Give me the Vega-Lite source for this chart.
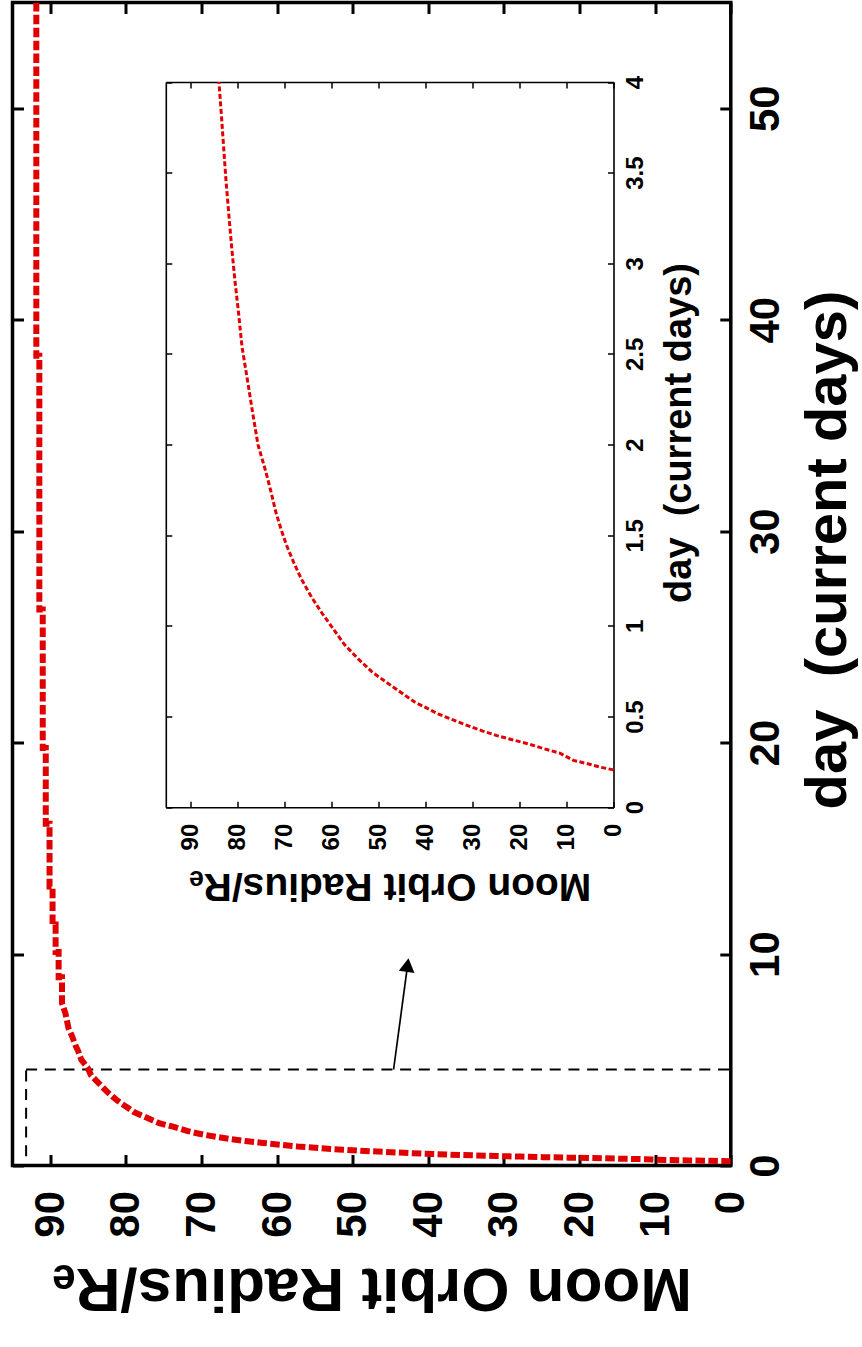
{
  "$schema": "https://vega.github.io/schema/vega-lite/v6.json",
  "padding": {"left": 10.5, "top": 0.5, "right": 0, "bottom": 0},
  "autosize": {"type": "pad"},
  "width": 718.3,
  "height": 1163,
  "view": {"stroke": "black", "strokeWidth": 3.5},
  "config": {
    "font": "Liberation Sans",
    "axis": {"grid": false, "domain": false, "labelFlush": false, "labelOverlap": false, "tickColor": "black", "labelColor": "black", "titleColor": "black", "domainColor": "black", "labelLimit": 0, "titleLimit": 0}
  },
  "datasets": {
    "orbit": [
      {"day": 0.206, "r": 0}, {"day": 0.22, "r": 2.7}, {"day": 0.24, "r": 5.5}, {"day": 0.258, "r": 8.5},
      {"day": 0.276, "r": 9.8}, {"day": 0.298, "r": 11.4}, {"day": 0.322, "r": 14.7}, {"day": 0.35, "r": 18.2},
      {"day": 0.372, "r": 21.5}, {"day": 0.395, "r": 24.8}, {"day": 0.42, "r": 27.8}, {"day": 0.45, "r": 31.0},
      {"day": 0.48, "r": 34.0}, {"day": 0.515, "r": 37.3}, {"day": 0.579, "r": 42.2}, {"day": 0.66, "r": 46.7},
      {"day": 0.745, "r": 51.3}, {"day": 0.818, "r": 54.3}, {"day": 0.9, "r": 57.3}, {"day": 0.984, "r": 59.6},
      {"day": 1.067, "r": 61.9}, {"day": 1.158, "r": 64.2}, {"day": 1.26, "r": 66.4}, {"day": 1.35, "r": 68.0},
      {"day": 1.443, "r": 69.5}, {"day": 1.526, "r": 70.6}, {"day": 1.627, "r": 71.8}, {"day": 1.747, "r": 72.9},
      {"day": 1.857, "r": 74.0}, {"day": 2.0, "r": 75.6}, {"day": 2.17, "r": 76.7}, {"day": 2.35, "r": 77.8},
      {"day": 2.54, "r": 79.0}, {"day": 2.72, "r": 79.7}, {"day": 2.905, "r": 80.5}, {"day": 3.09, "r": 81.2},
      {"day": 3.27, "r": 81.8}, {"day": 3.457, "r": 82.4}, {"day": 3.64, "r": 82.9}, {"day": 3.825, "r": 83.4},
      {"day": 4.0, "r": 83.9}, {"day": 4.26, "r": 84.6}, {"day": 4.65, "r": 85.1}, {"day": 5.0, "r": 85.9},
      {"day": 5.4, "r": 86.3}, {"day": 5.7, "r": 86.7}, {"day": 6.1, "r": 87.1}, {"day": 6.5, "r": 87.6},
      {"day": 7.2, "r": 88.0}, {"day": 7.67, "r": 88.45}, {"day": 8.9, "r": 88.45}, {"day": 8.9, "r": 88.9},
      {"day": 10.1, "r": 88.9}, {"day": 10.1, "r": 89.3}, {"day": 11.4, "r": 89.3}, {"day": 11.4, "r": 89.7},
      {"day": 13.2, "r": 89.7}, {"day": 13.2, "r": 90.1}, {"day": 16.16, "r": 90.1}, {"day": 16.16, "r": 90.6},
      {"day": 19.75, "r": 90.6}, {"day": 19.75, "r": 91.0}, {"day": 26.3, "r": 91.0}, {"day": 26.3, "r": 91.45},
      {"day": 38.3, "r": 91.45}, {"day": 38.3, "r": 91.85}, {"day": 55, "r": 91.85}
    ],
    "box": [{"r1": 0, "r2": 93.2, "d1": 0, "d2": 4.54}],
    "arrow": [{"r": 44.6, "d": 4.54, "r2": 42.85, "d2": 9.2}],
    "head": [{"r": 42.75, "d": 9.475}]
  },
  "layer": [
    {
      "layer": [
        {
          "data": {"name": "box"},
          "mark": {"type": "rect", "fillOpacity": 0, "stroke": "black", "strokeWidth": 2, "strokeDash": [11, 7.7]},
          "encoding": {
            "x": {"field": "r1", "type": "quantitative", "scale": {"domain": [0, 95], "reverse": true, "nice": false, "zero": false},
              "axis": {"orient": "bottom", "values": [0, 10, 20, 30, 40, 50, 60, 70, 80, 90], "title": "Moon Orbit Radius/Rₑ",
                "tickSize": -11, "tickWidth": 3, "labelAngle": -90, "labelAlign": "right", "labelBaseline": "middle", "labelPadding": 36,
                "labelFontSize": 42, "labelFontWeight": "bold", "titleFontSize": 62, "titleFontWeight": "bold",
                "titleAngle": 180, "titleBaseline": "bottom", "titlePadding": 18}},
            "x2": {"field": "r2"},
            "y": {"field": "d1", "type": "quantitative", "scale": {"domain": [0, 55], "nice": false, "zero": false},
              "axis": {"orient": "right", "values": [0, 10, 20, 30, 40, 50], "title": "day\u00a0 (current days)",
                "tickSize": -11, "tickWidth": 3, "labelAngle": -90, "labelAlign": "center", "labelBaseline": "top", "labelPadding": 26,
                "labelFontSize": 42, "labelFontWeight": "bold", "titleFontSize": 58, "titleFontWeight": "bold",
                "titleAngle": -90, "titleBaseline": "top", "titlePadding": 13, "titleY": 547}},
            "y2": {"field": "d2"}
          }
        },
        {
          "data": {"name": "orbit"},
          "mark": {"type": "line", "color": "#e00000", "strokeWidth": 6, "strokeDash": [9.5, 3.4], "strokeCap": "butt", "clip": true},
          "encoding": {
            "x": {"field": "r", "type": "quantitative", "scale": {"domain": [0, 95], "reverse": true, "nice": false, "zero": false},
              "axis": {"orient": "top", "values": [0, 10, 20, 30, 40, 50, 60, 70, 80, 90], "labels": false, "title": null, "tickSize": -11, "tickWidth": 3}},
            "y": {"field": "day", "type": "quantitative", "scale": {"domain": [0, 55], "nice": false, "zero": false},
              "axis": {"orient": "left", "values": [0, 10, 20, 30, 40, 50], "labels": false, "title": null, "tickSize": -11, "tickWidth": 3}},
            "order": {"value": null}
          }
        },
        {
          "data": {"name": "arrow"},
          "mark": {"type": "rule", "color": "black", "strokeWidth": 1.7},
          "encoding": {
            "x": {"field": "r", "type": "quantitative", "axis": null},
            "x2": {"field": "r2"},
            "y": {"field": "d", "type": "quantitative", "axis": null},
            "y2": {"field": "d2"}
          }
        },
        {
          "data": {"name": "head"},
          "mark": {"type": "point", "shape": "triangle-up", "filled": true, "color": "black", "opacity": 1, "size": 250, "angle": 7.8},
          "encoding": {
            "x": {"field": "r", "type": "quantitative", "axis": null},
            "y": {"field": "d", "type": "quantitative", "axis": null}
          }
        }
      ],
      "resolve": {"axis": {"x": "independent", "y": "independent"}}
    },
    {
      "data": {"name": "orbit"},
      "transform": [{"filter": "datum.day <= 4.001"}],
      "layer": [
        {
          "mark": {"type": "line", "color": "#e00000", "strokeWidth": 3, "strokeDash": [5, 2.5], "strokeCap": "butt"},
          "encoding": {
            "x": {"field": "r", "type": "quantitative", "scale": {"domain": [0, 95.2], "range": [601, 153.3], "nice": false, "zero": false},
              "axis": {"orient": "bottom", "offset": -358.3, "domain": true, "domainWidth": 1.6, "values": [0, 10, 20, 30, 40, 50, 60, 70, 80, 90], "title": "Moon Orbit Radius/Rₑ",
                "tickSize": -6, "tickWidth": 1.5, "labelAngle": -90, "labelAlign": "right", "labelBaseline": "middle", "labelPadding": 22,
                "labelFontSize": 24, "labelFontWeight": "bold", "titleFontSize": 39, "titleFontWeight": "bold",
                "titleAngle": 180, "titleBaseline": "bottom", "titlePadding": 16}},
            "y": {"field": "day", "type": "quantitative", "scale": {"domain": [0, 4], "range": [804.7, 79.5], "nice": false, "zero": false},
              "axis": {"orient": "right", "offset": -117.3, "domain": true, "domainWidth": 1.6, "values": [0, 0.5, 1, 1.5, 2, 2.5, 3, 3.5, 4], "format": "~g", "title": "day\u00a0 (current days)",
                "tickSize": -6, "tickWidth": 1.5, "labelAngle": -90, "labelAlign": "center", "labelBaseline": "top", "labelPadding": 16,
                "labelFontSize": 24, "labelFontWeight": "bold", "titleFontSize": 38, "titleFontWeight": "bold",
                "titleAngle": -90, "titleBaseline": "top", "titlePadding": 13, "titleY": 430}},
            "order": {"value": null}
          }
        },
        {
          "mark": {"type": "line", "strokeOpacity": 0},
          "encoding": {
            "x": {"field": "r", "type": "quantitative", "scale": {"domain": [0, 95.2], "range": [601, 153.3], "nice": false, "zero": false},
              "axis": {"orient": "top", "offset": -79.5, "domain": true, "domainWidth": 1.6, "values": [0, 10, 20, 30, 40, 50, 60, 70, 80, 90], "labels": false, "title": null, "tickSize": -6, "tickWidth": 1.5}},
            "y": {"field": "day", "type": "quantitative", "scale": {"domain": [0, 4], "range": [804.7, 79.5], "nice": false, "zero": false},
              "axis": {"orient": "left", "offset": -153.3, "domain": true, "domainWidth": 1.6, "values": [0, 0.5, 1, 1.5, 2, 2.5, 3, 3.5, 4], "labels": false, "title": null, "tickSize": -6, "tickWidth": 1.5}},
            "order": {"value": null}
          }
        }
      ],
      "resolve": {"axis": {"x": "independent", "y": "independent"}}
    }
  ],
  "resolve": {"scale": {"x": "independent", "y": "independent"}, "axis": {"x": "independent", "y": "independent"}}
}
